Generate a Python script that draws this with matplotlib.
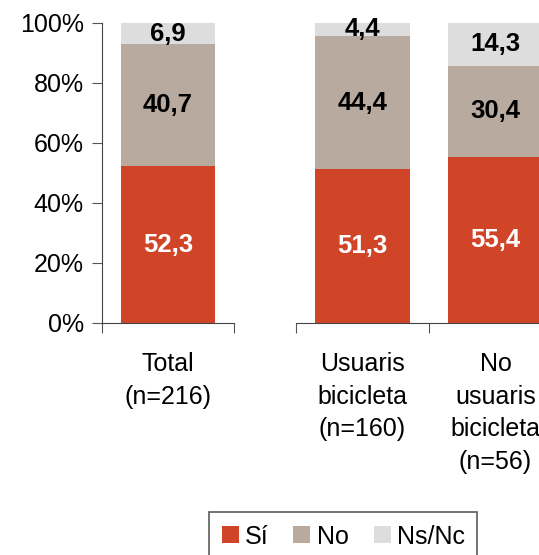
import matplotlib
matplotlib.use("Agg")
from matplotlib import pyplot as plt
from matplotlib.patches import Patch
import numpy as np

plt.rcParams['font.family'] = ['Liberation Sans', 'DejaVu Sans']

# data
groups_left = ["Total\n(n=216)"]
groups_right = ["Usuaris\nbicicleta\n(n=160)", "No\nusuaris\nbicicleta\n(n=56)"]
si_left = [52.3]
no_left = [40.7]
nsnc_left = [6.9]
si_right = [51.3, 55.4]
no_right = [44.4, 30.4]
nsnc_right = [4.4, 14.3]
series_names = ["Sí", "No", "Ns/Nc"]
colors = ["#D04428", "#B9AAA0", "#DDDDDD"]
text_colors = ["white", "black", "black"]

FS = 18
W, H = 539, 555
fig = plt.figure(figsize=(W / 100, H / 100), dpi=100)

ax1 = fig.add_axes([102 / W, 1 - 323 / H, 132 / W, 300 / H])
ax2 = fig.add_axes([296 / W, 1 - 323 / H, 266 / W, 300 / H])


def draw(ax, labels, series):
    x = np.arange(len(labels))
    bottom = np.zeros(len(labels))
    for vals, c, tc in zip(series, colors, text_colors):
        vals = np.array(vals)
        ax.bar(x, vals, 0.71, bottom=bottom, color=c, zorder=2)
        for xi, b, v in zip(x, bottom, vals):
            ax.text(xi, b + v / 2, ("%.1f" % v).replace(".", ","), ha="center",
                    va="center", color=tc, fontsize=18.5, fontweight="bold")
        bottom = bottom + vals
    ax.set_xlim(-0.5, len(labels) - 0.5)
    ax.set_ylim(0, 100)
    ax.set_xticks(np.arange(len(labels) + 1) - 0.5)
    ax.set_xticklabels([])
    ax.set_xticks(x, minor=True)
    ax.set_xticklabels(labels, minor=True, fontsize=FS, va="top", linespacing=1.45)
    ax.tick_params(axis="x", which="major", direction="out", length=7, color="#555555")
    ax.tick_params(axis="x", which="minor", length=0, pad=21)
    for s in ["top", "right"]:
        ax.spines[s].set_visible(False)
    ax.spines["bottom"].set_color("#444444")
    ax.spines["left"].set_color("#444444")


draw(ax1, groups_left, [si_left, no_left, nsnc_left])
draw(ax2, groups_right, [si_right, no_right, nsnc_right])

ax1.set_yticks(np.arange(0, 101, 20))
ax1.set_yticklabels(["%d%%" % v for v in range(0, 101, 20)], fontsize=FS)
ax1.tick_params(axis="y", direction="out", length=7, color="#555555", pad=6)

ax2.spines["left"].set_visible(False)
ax2.set_yticks([])

handles = [Patch(facecolor=c, edgecolor="none") for c in colors]
leg = fig.legend(handles, series_names, loc="upper left", bbox_to_anchor=(209 / W, 1 - 512 / H),
                 ncol=3, fontsize=FS, frameon=True, fancybox=False, handlelength=0.68,
                 handleheight=0.68, handletextpad=0.25, columnspacing=1.0,
                 borderpad=0.5, borderaxespad=0)
leg.get_frame().set_edgecolor("#333333")
leg.get_frame().set_linewidth(1.2)

fig.savefig("out.png", dpi=100)
